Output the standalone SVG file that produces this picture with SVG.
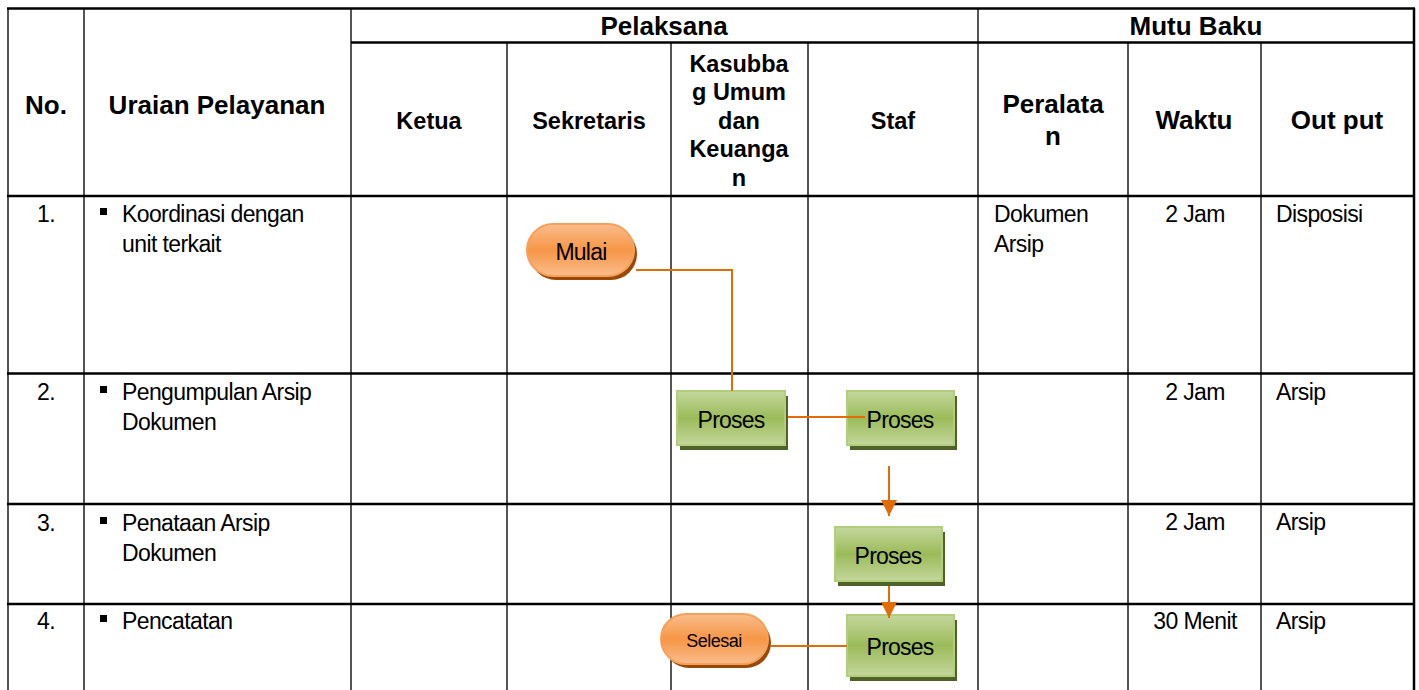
<svg xmlns="http://www.w3.org/2000/svg" width="1419" height="690" viewBox="0 0 1419 690">
<defs>
<linearGradient id="gGreen" x1="0" y1="0" x2="0" y2="1">
<stop offset="0" stop-color="#c4d79d"/><stop offset="0.5" stop-color="#9bbb59"/><stop offset="1" stop-color="#c4d79d"/>
</linearGradient>
<linearGradient id="gOrange" x1="0" y1="0" x2="0" y2="1">
<stop offset="0" stop-color="#f9bd8c"/><stop offset="0.5" stop-color="#f79646"/><stop offset="1" stop-color="#f9bd8c"/>
</linearGradient>
<marker id="arr" markerWidth="16" markerHeight="16" refX="16" refY="8" orient="auto" markerUnits="userSpaceOnUse">
<path d="M0,0 L16,8 L0,16 Z" fill="#e36c0a"/>
</marker>
<style>
.hl{stroke:#000;stroke-width:2.5;fill:none}
.vl{stroke:#555;stroke-width:2;fill:none}
.hb{font-family:"Liberation Sans",Arial,sans-serif;font-weight:bold;font-size:26px;fill:#000;text-anchor:middle}
.hs{font-family:"Liberation Sans",Arial,sans-serif;font-weight:bold;font-size:23.5px;fill:#000;text-anchor:middle}
.t{font-family:"Liberation Sans",Arial,sans-serif;font-size:23px;fill:#000;letter-spacing:-0.6px}
.tc{font-family:"Liberation Sans",Arial,sans-serif;font-size:23px;fill:#000;text-anchor:middle;letter-spacing:-0.6px}
.pbox{fill:url(#gGreen);stroke:#b2cd7e;stroke-width:2}
.pshadow{fill:#4f6228}
.obox{fill:url(#gOrange);stroke:#f5a15c;stroke-width:2}
.oshadow{fill:#984807}
.nt{font-family:"Liberation Sans",Arial,sans-serif;font-size:23px;fill:#000;text-anchor:middle;letter-spacing:-0.8px}
.conn{stroke:#e36c0a;stroke-width:2;fill:none}
</style>
</defs>
<rect width="1419" height="690" fill="#fff"/>
<g id="grid">
<line class="vl" x1="8" y1="8" x2="8" y2="690"/>
<line class="vl" x1="84" y1="8" x2="84" y2="690"/>
<line class="vl" x1="351" y1="8" x2="351" y2="690"/>
<line class="vl" x1="507" y1="42.5" x2="507" y2="690"/>
<line class="vl" x1="671" y1="42.5" x2="671" y2="690"/>
<line class="vl" x1="808" y1="42.5" x2="808" y2="690"/>
<line class="vl" x1="978" y1="8" x2="978" y2="690"/>
<line class="vl" x1="1128" y1="42.5" x2="1128" y2="690"/>
<line class="vl" x1="1261" y1="42.5" x2="1261" y2="690"/>
<line class="hl" x1="1414" y1="8" x2="1414" y2="690"/>
<line class="hl" x1="7" y1="8.5" x2="1415" y2="8.5"/>
<line class="hl" x1="351" y1="42.5" x2="1415" y2="42.5"/>
<line class="hl" x1="7" y1="196" x2="1415" y2="196"/>
<line class="hl" x1="7" y1="373.5" x2="1415" y2="373.5"/>
<line class="hl" x1="7" y1="504" x2="1415" y2="504"/>
<line class="hl" x1="7" y1="604" x2="1415" y2="604"/>
</g>
<g id="header">
<text class="hb" x="46" y="114">No.</text>
<text class="hb" x="217" y="114">Uraian Pelayanan</text>
<text class="hb" x="664" y="35">Pelaksana</text>
<text class="hb" x="1196" y="35">Mutu Baku</text>
<text class="hs" x="429" y="129">Ketua</text>
<text class="hs" x="589" y="129">Sekretaris</text>
<text class="hs" x="739" y="72">Kasubba</text>
<text class="hs" x="739" y="100">g Umum</text>
<text class="hs" x="739" y="129">dan</text>
<text class="hs" x="739" y="157">Keuanga</text>
<text class="hs" x="739" y="186">n</text>
<text class="hs" x="893" y="129">Staf</text>
<text class="hb" x="1053" y="113">Peralata</text>
<text class="hb" x="1053" y="145">n</text>
<text class="hb" x="1194" y="129">Waktu</text>
<text class="hb" x="1337" y="129">Out put</text>
</g>
<g id="rows">
<text class="tc" x="46" y="222">1.</text>
<rect x="100" y="208" width="7" height="7" fill="#000"/>
<text class="t" x="122" y="222">Koordinasi dengan</text>
<text class="t" x="122" y="252">unit terkait</text>
<text class="t" x="994" y="222">Dokumen</text>
<text class="t" x="994" y="252">Arsip</text>
<text class="tc" x="1195" y="222">2 Jam</text>
<text class="t" x="1276" y="222">Disposisi</text>

<text class="tc" x="46" y="400">2.</text>
<rect x="100" y="386" width="7" height="7" fill="#000"/>
<text class="t" x="122" y="400">Pengumpulan Arsip</text>
<text class="t" x="122" y="430">Dokumen</text>
<text class="tc" x="1195" y="400">2 Jam</text>
<text class="t" x="1276" y="400">Arsip</text>

<text class="tc" x="46" y="531">3.</text>
<rect x="100" y="517" width="7" height="7" fill="#000"/>
<text class="t" x="122" y="531">Penataan Arsip</text>
<text class="t" x="122" y="561">Dokumen</text>
<text class="tc" x="1195" y="530">2 Jam</text>
<text class="t" x="1276" y="530">Arsip</text>

<text class="tc" x="46" y="629">4.</text>
<rect x="100" y="615" width="7" height="7" fill="#000"/>
<text class="t" x="122" y="629">Pencatatan</text>
<text class="tc" x="1195" y="629">30 Menit</text>
<text class="t" x="1276" y="629">Arsip</text>
</g>
<g id="node-mulai">
<rect class="oshadow" x="530" y="228" width="107" height="52" rx="26"/>
<rect class="obox" x="527" y="224" width="107" height="52" rx="26"/>
<text class="nt" x="581" y="260">Mulai</text>
</g>
<g id="node-proses1">
<rect class="pshadow" x="680" y="396" width="108" height="54"/>
<rect class="pbox" x="677" y="391" width="108" height="54"/>
<text class="nt" x="731" y="428">Proses</text>
</g>
<g id="node-proses2">
<rect class="pshadow" x="850" y="396" width="107" height="54"/>
<rect class="pbox" x="847" y="391" width="107" height="54"/>
<text class="nt" x="900" y="428">Proses</text>
</g>
<g id="node-proses3">
<rect class="pshadow" x="838" y="532" width="107" height="54"/>
<rect class="pbox" x="835" y="527" width="107" height="54"/>
<text class="nt" x="888" y="564">Proses</text>
</g>
<g id="node-proses4">
<rect class="pshadow" x="850" y="620" width="107" height="61"/>
<rect class="pbox" x="847" y="615" width="107" height="61"/>
<text class="nt" x="900" y="655">Proses</text>
</g>
<g id="node-selesai">
<rect class="oshadow" x="664" y="618" width="107" height="50" rx="25"/>
<rect class="obox" x="661" y="614" width="107" height="50" rx="25"/>
<text class="nt" x="714" y="647" style="font-size:18px;letter-spacing:-0.5px">Selesai</text>
</g>
<g id="connectors">
<path class="conn" d="M636,270 H732 V391"/>
<path class="conn" d="M788,417 H865"/>
<path class="conn" d="M889,466 V516" marker-end="url(#arr)"/>
<path class="conn" d="M889,586 V618" marker-end="url(#arr)"/>
<path class="conn" d="M771,646 H847"/>
</g>
</svg>
